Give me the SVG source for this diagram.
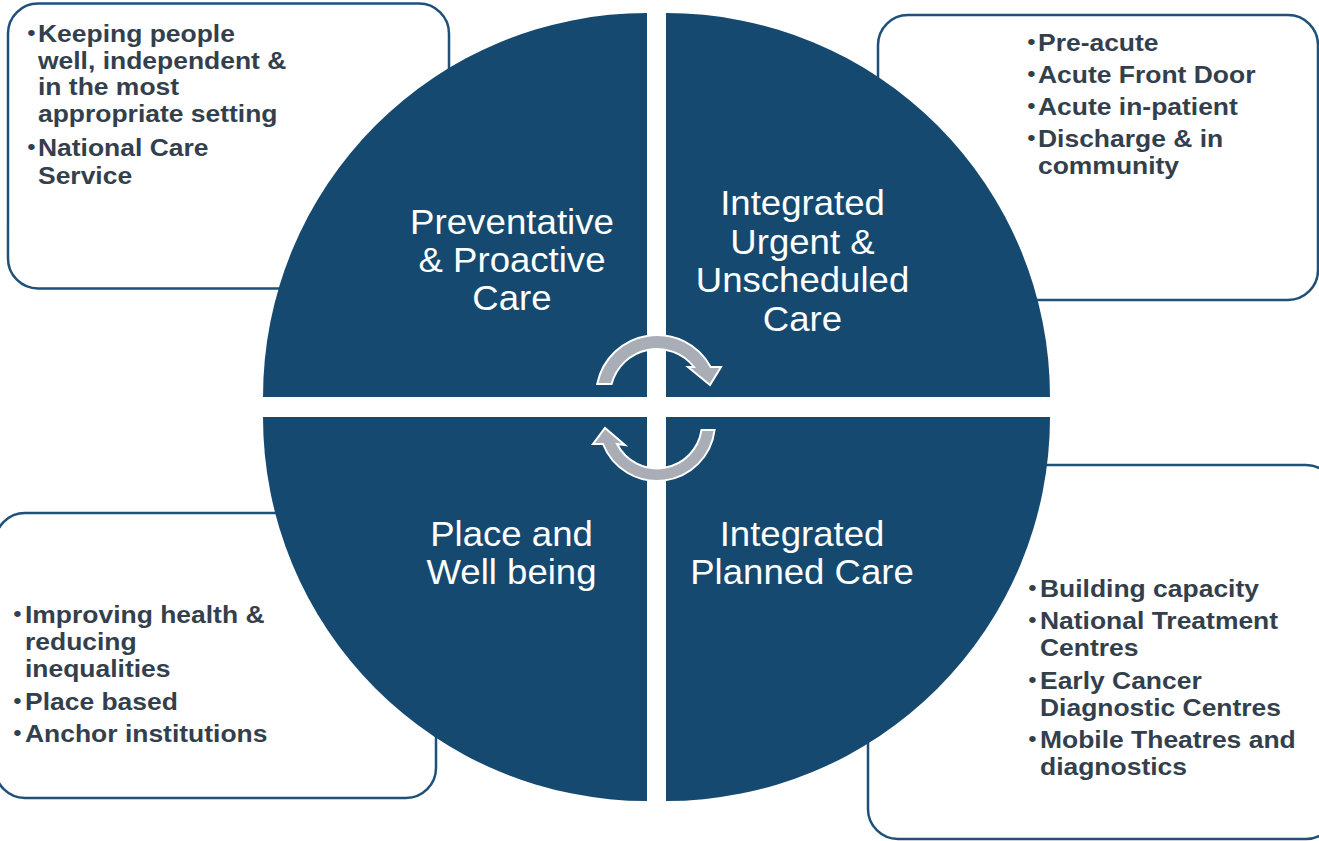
<svg xmlns="http://www.w3.org/2000/svg" width="1319" height="841" viewBox="0 0 1319 841">
  <style>
    .box { fill: #ffffff; stroke: #1f507a; stroke-width: 2.5; }
    .quad { fill: #15496f; }
    .item { font-family: "Liberation Sans", Arial, sans-serif; font-weight: bold; font-size: 24.5px; fill: #343f4d; }
    .bul { font-family: "Liberation Sans", Arial, sans-serif; font-size: 22px; fill: #343f4d; }
    .label { font-family: "Liberation Sans", Arial, sans-serif; font-size: 34.5px; fill: #ffffff; text-anchor: middle; }
    .cycle { fill: #a8adb6; stroke: #ffffff; stroke-width: 2; stroke-linejoin: miter; }
  </style>

  <!-- bullet boxes (drawn first, the circle sits on top of them) -->
  <g id="box-preventative">
    <rect class="box" x="8" y="3.5" width="441" height="285" rx="30" ry="30"/>
    <g transform="translate(38 0) scale(1.08 1)">
      <text class="bul" x="-10" y="40">•</text>
      <text class="item" x="0" y="42">Keeping people</text>
      <text class="item" x="0" y="69">well, independent &amp;</text>
      <text class="item" x="0" y="95.5">in the most</text>
      <text class="item" x="0" y="122.5">appropriate setting</text>
      <text class="bul" x="-10" y="154.5">•</text>
      <text class="item" x="0" y="156.5">National Care</text>
      <text class="item" x="0" y="184">Service</text>
    </g>
  </g>

  <g id="box-urgent">
    <rect class="box" x="878" y="15" width="440" height="285" rx="30" ry="30"/>
    <g transform="translate(1038 0) scale(1.08 1)">
      <text class="bul" x="-10" y="49">•</text>
      <text class="item" x="0" y="51">Pre-acute</text>
      <text class="bul" x="-10" y="81">•</text>
      <text class="item" x="0" y="83">Acute Front Door</text>
      <text class="bul" x="-10" y="113">•</text>
      <text class="item" x="0" y="115">Acute in-patient</text>
      <text class="bul" x="-10" y="145">•</text>
      <text class="item" x="0" y="147">Discharge &amp; in</text>
      <text class="item" x="0" y="174">community</text>
    </g>
  </g>

  <g id="box-place">
    <rect class="box" x="-5" y="513" width="441" height="285" rx="30" ry="30"/>
    <g transform="translate(25 0) scale(1.08 1)">
      <text class="bul" x="-11" y="621">•</text>
      <text class="item" x="0" y="623">Improving health &amp;</text>
      <text class="item" x="0" y="650.5">reducing</text>
      <text class="item" x="0" y="677.5">inequalities</text>
      <text class="bul" x="-11" y="708">•</text>
      <text class="item" x="0" y="710">Place based</text>
      <text class="bul" x="-11" y="740">•</text>
      <text class="item" x="0" y="742">Anchor institutions</text>
    </g>
  </g>

  <g id="box-planned">
    <rect class="box" x="868" y="465" width="468" height="374" rx="30" ry="30"/>
    <g transform="translate(1040 0) scale(1.08 1)">
      <text class="bul" x="-11" y="595">•</text>
      <text class="item" x="0" y="597">Building capacity</text>
      <text class="bul" x="-11" y="627">•</text>
      <text class="item" x="0" y="629">National Treatment</text>
      <text class="item" x="0" y="656.5">Centres</text>
      <text class="bul" x="-11" y="687">•</text>
      <text class="item" x="0" y="689">Early Cancer</text>
      <text class="item" x="0" y="716.5">Diagnostic Centres</text>
      <text class="bul" x="-11" y="746.5">•</text>
      <text class="item" x="0" y="748.5">Mobile Theatres and</text>
      <text class="item" x="0" y="775.5">diagnostics</text>
    </g>
  </g>

  <!-- four quarter-circle segments -->
  <g id="quad-preventative">
    <path class="quad" d="M647 397 L263 397 A384 384 0 0 1 647 13 Z"/>
    <g transform="translate(512 0) scale(1.06 1)">
      <text class="label" x="0" y="234" textLength="192.5" lengthAdjust="spacingAndGlyphs">Preventative</text>
      <text class="label" x="0" y="272">&amp; Proactive</text>
      <text class="label" x="0" y="310">Care</text>
    </g>
  </g>

  <g id="quad-urgent">
    <path class="quad" d="M666 397 L666 13 A384 384 0 0 1 1050 397 Z"/>
    <g transform="translate(802.5 0) scale(1.06 1)">
      <text class="label" x="0" y="215">Integrated</text>
      <text class="label" x="0" y="254">Urgent &amp;</text>
      <text class="label" x="0" y="292.5">Unscheduled</text>
      <text class="label" x="0" y="331">Care</text>
    </g>
  </g>

  <g id="quad-place">
    <path class="quad" d="M647 417 L647 801 A384 384 0 0 1 263 417 Z"/>
    <g transform="translate(511.5 0) scale(1.06 1)">
      <text class="label" x="0" y="546">Place and</text>
      <text class="label" x="0" y="584">Well being</text>
    </g>
  </g>

  <g id="quad-planned">
    <path class="quad" d="M666 417 L1050 417 A384 384 0 0 1 666 801 Z"/>
    <g transform="translate(802 0) scale(1.06 1)">
      <text class="label" x="0" y="546">Integrated</text>
      <text class="label" x="0" y="584">Planned Care</text>
    </g>
  </g>

  <!-- circular arrows linking the segments -->
  <g id="connectors">
    <path class="cycle" d="M597.2 384 A61 61 0 0 1 710.7 367 L721 367 L710 385 L688 367 L694 367 A47 47 0 0 0 611.6 384 Z"/>
    <path class="cycle" d="M714.6 430 A58 58 0 0 1 603 444 L593 444 L605 428 L625 445 L617 444 A45 45 0 0 0 701.5 430 Z"/>
  </g>
</svg>
